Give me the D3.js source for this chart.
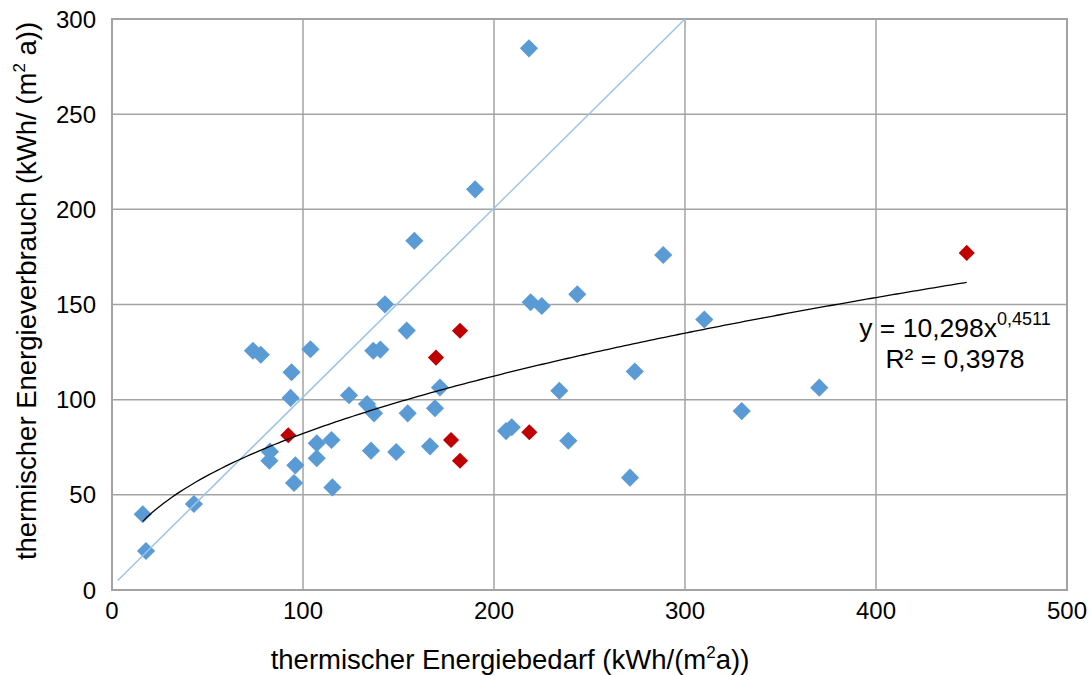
<!DOCTYPE html>
<html>
<head>
<meta charset="utf-8">
<script src="https://cdn.jsdelivr.net/npm/d3@7"></script>
<style>
  html, body { margin: 0; padding: 0; background: #fff; }
  svg { display: block; font-family: Arial, "Liberation Sans", sans-serif; }
</style>
</head>
<body>
<svg id="chart" width="1091" height="675"></svg>
<script>
// ---- data ----
const blueX = [218.3, 190.1, 158.3, 288.6, 142.9, 219.2, 225.0, 243.6, 310.1, 154.3,
               73.8, 77.9, 103.9, 136.8, 140.5, 94.0, 93.5, 124.1, 133.5, 137.2,
               171.7, 154.8, 169.1, 234.2, 273.7, 206.3, 209.3, 238.9, 271.2, 329.7,
               370.3, 82.7, 82.4, 107.2, 107.2, 114.9, 96.0, 95.3, 115.4, 135.6,
               148.8, 166.5, 16.1, 42.9, 17.8];
const blueY = [284.6, 210.5, 183.5, 176.0, 150.1, 151.2, 149.2, 155.4, 142.1, 136.3,
               125.7, 123.6, 126.5, 125.7, 126.3, 114.4, 100.9, 102.3, 97.7, 92.8,
               106.4, 92.8, 95.5, 104.7, 114.8, 83.5, 85.5, 78.4, 59.0, 94.0,
               106.3, 72.7, 67.9, 77.1, 69.2, 78.8, 65.5, 56.2, 53.9, 73.2,
               72.5, 75.5, 39.8, 45.2, 20.5];
const redX = [92.3, 169.6, 182.2, 177.5, 182.2, 218.5, 447.5];
const redY = [81.3, 122.1, 136.2, 78.8, 67.9, 82.9, 177.1];
const diagX = [3, 300];
const diagY = [5, 300];
// power trendline y = a * x^b (Excel fit shown in chart)
const trendA = 10.298;
const trendB = 0.4511;
const trendR2 = "0,3978";
const xTicks = [0, 100, 200, 300, 400, 500];
const yTicks = [0, 50, 100, 150, 200, 250, 300];
const xTitle = "thermischer Energiebedarf (kWh/(m";
const yTitle = "thermischer Energieverbrauch (kWh/ (m";

// ---- chart ----
const svg = d3.select("#chart");
const x = d3.scaleLinear().domain([0, 500]).range([112, 1067]);
const y = d3.scaleLinear().domain([0, 300]).range([590, 19]);
const gridColor = "#a3a3a3";

// gridlines
const g = svg.append("g");
g.selectAll("line.vg").data(xTicks).join("line")
  .attr("x1", d => x(d)).attr("x2", d => x(d))
  .attr("y1", y(0)).attr("y2", y(300))
  .attr("stroke", gridColor).attr("stroke-width", 1.5);
g.selectAll("line.hg").data(yTicks).join("line")
  .attr("x1", x(0)).attr("x2", x(500))
  .attr("y1", d => y(d)).attr("y2", d => y(d))
  .attr("stroke", gridColor).attr("stroke-width", 1.5);
g.append("rect").attr("x", x(0)).attr("y", y(300))
  .attr("width", x(500) - x(0)).attr("height", y(0) - y(300))
  .attr("fill", "none").attr("stroke", gridColor).attr("stroke-width", 2);

// tick labels
svg.append("g").selectAll("text").data(xTicks).join("text")
  .attr("x", d => x(d)).attr("y", 619)
  .attr("text-anchor", "middle").attr("font-size", 24).attr("fill", "#000")
  .text(d => d);
svg.append("g").selectAll("text").data(yTicks).join("text")
  .attr("x", 96).attr("y", d => y(d) + 8.5)
  .attr("text-anchor", "end").attr("font-size", 24).attr("fill", "#000")
  .text(d => d);

// axis titles
const xt = svg.append("text").attr("x", 510).attr("y", 669)
  .attr("text-anchor", "middle").attr("font-size", 27.5).attr("fill", "#000");
xt.append("tspan").text(xTitle);
xt.append("tspan").attr("font-size", 17).attr("dy", -11).text("2");
xt.append("tspan").attr("dy", 11).text("a))");

const yt = svg.append("text").attr("transform", "translate(36,291) rotate(-90)")
  .attr("text-anchor", "middle").attr("font-size", 27.5).attr("fill", "#000");
yt.append("tspan").text(yTitle);
yt.append("tspan").attr("font-size", 17).attr("dy", -11).text("2");
yt.append("tspan").attr("dy", 11).text(" a))");

// points
const diamond = (size) => d3.symbol().type(d3.symbolSquare).size(size);
const blue = blueX.map((v, i) => [v, blueY[i]]);
const red = redX.map((v, i) => [v, redY[i]]);
svg.append("g").selectAll("path").data(blue).join("path")
  .attr("d", diamond(165))
  .attr("transform", d => `translate(${x(d[0])},${y(d[1])}) rotate(45)`)
  .attr("fill", "#5b9bd5");
svg.append("g").selectAll("path").data(red).join("path")
  .attr("d", diamond(130))
  .attr("transform", d => `translate(${x(d[0])},${y(d[1])}) rotate(45)`)
  .attr("fill", "#c00000");

// diagonal reference line
svg.append("line")
  .attr("x1", x(diagX[0])).attr("y1", y(diagY[0]))
  .attr("x2", x(diagX[1])).attr("y2", y(diagY[1]))
  .attr("stroke", "#9dc3e6").attr("stroke-width", 1.5);

// trendline
const allX = blueX.concat(redX);
const xmin = d3.min(allX), xmax = d3.max(allX);
const trendPts = d3.range(0, 201).map(i => {
  const xv = xmin + (xmax - xmin) * i / 200;
  return [xv, trendA * Math.pow(xv, trendB)];
});
svg.append("path").datum(trendPts)
  .attr("d", d3.line().x(d => x(d[0])).y(d => y(d[1])))
  .attr("fill", "none").attr("stroke", "#000").attr("stroke-width", 1.3);

// equation label
const eq = svg.append("text").attr("x", 955).attr("y", 337)
  .attr("text-anchor", "middle").attr("font-size", 26.5).attr("fill", "#000");
eq.append("tspan").text("y = 10,298x");
eq.append("tspan").attr("font-size", 18).attr("dy", -12).text("0,4511");
svg.append("text").attr("x", 955).attr("y", 368)
  .attr("text-anchor", "middle").attr("font-size", 26.5).attr("fill", "#000")
  .text("R² = " + trendR2);
</script>
</body>
</html>
